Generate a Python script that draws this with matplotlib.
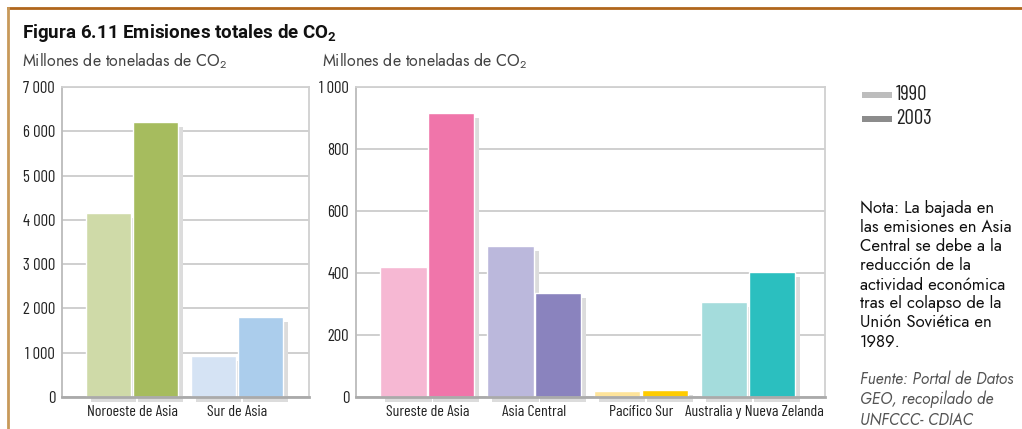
import matplotlib
matplotlib.use("Agg")
import matplotlib.pyplot as plt
import matplotlib.transforms as mtransforms
from matplotlib.lines import Line2D
from matplotlib.patches import Rectangle
from matplotlib.ticker import FuncFormatter

plt.rcParams['mathtext.default'] = 'regular'

# data (millones de toneladas de CO2)
years = ['1990', '2003']
left_regions = ['Noroeste de Asia', 'Sur de Asia']
left_1990 = [4150, 930]
left_2003 = [6200, 1810]
right_regions = ['Sureste de Asia', 'Asia Central', 'Pacífico Sur', 'Australia y Nueva Zelanda']
right_1990 = [420, 486, 18, 305]
right_2003 = [915, 335, 21, 404]

left_colors_1990 = ['#CFDAA8', '#D5E3F4']
left_colors_2003 = ['#A6BC5E', '#ABCDEC']
right_colors_1990 = ['#F6B8D3', '#BBB8DC', '#FFE49A', '#A4DCDC']
right_colors_2003 = ['#F075AA', '#8A83BE', '#FFCC00', '#2BBFBF']
legend_colors = ['#BDBDBD', '#8C8C8C']

note = ("Nota: La bajada en\nlas emisiones en Asia\nCentral se debe a la\nreducción de la\n"
        "actividad económica\ntras el colapso de la\nUnión Soviética en\n1989.")
source = "Fuente: Portal de Datos\nGEO, recopilado de\nUNFCCC- CDIAC"

W, H = 1022, 429
fig = plt.figure(figsize=(W / 100, H / 100), dpi=100)
narrow = ['Barlow Condensed', 'Roboto Condensed', 'DejaVu Sans']
futura = ['Jost', 'DejaVu Sans']


def px_axes(x0, x1, ytop, ybot):
    return fig.add_axes([x0 / W, (H - ybot) / H, (x1 - x0) / W, (ybot - ytop) / H])


def draw_panel(ax, regions, v90, v03, c90, c03, ymax, step, xlim):
    x = list(range(len(regions)))
    off, w = 0.223, 0.435
    shadow = mtransforms.offset_copy(ax.transData, fig=fig, x=5, y=-5, units='dots')
    for i in x:
        for xc, v in ((i - off, v90[i]), (i + off, v03[i])):
            ax.add_patch(Rectangle((xc - w / 2, 0), w, v, facecolor='#DCDCDC',
                                   edgecolor='none', transform=shadow, clip_on=False, zorder=1))
    ax.bar([i - off for i in x], v90, width=w, color=c90, edgecolor='white', linewidth=1, zorder=2)
    ax.bar([i + off for i in x], v03, width=w, color=c03, edgecolor='white', linewidth=1, zorder=2)
    ax.set_xlim(*xlim)
    ax.set_ylim(0, ymax)
    ax.set_yticks(range(0, ymax + 1, step))
    ax.yaxis.set_major_formatter(FuncFormatter(lambda v, p: f"{v:,.0f}".replace(",", " ")))
    ax.set_xticks(x, regions)
    ax.tick_params(length=0, labelsize=12, colors='#222222')
    ax.tick_params(axis='x', labelsize=11.5, pad=6)
    ax.tick_params(axis='y', pad=5)
    for lab in ax.get_xticklabels() + ax.get_yticklabels():
        lab.set_family(narrow)
    ax.grid(axis='y', color='#CCCCCC', linewidth=1.3, zorder=0)
    ax.set_axisbelow(True)
    for s in ('top', 'right'):
        ax.spines[s].set_color('#D0D0D0')
        ax.spines[s].set_linewidth(1.3)
    ax.spines['left'].set_color('#BBBBBB')
    ax.spines['left'].set_linewidth(1.3)
    ax.spines['bottom'].set_color('#AAAAAA')
    ax.spines['bottom'].set_linewidth(2)


ax1 = px_axes(62, 309, 87, 397)
draw_panel(ax1, left_regions, left_1990, left_2003, left_colors_1990, left_colors_2003,
           7000, 1000, (-0.667, 1.686))
ax2 = px_axes(356, 825, 87, 397)
draw_panel(ax2, right_regions, right_1990, right_2003, right_colors_1990, right_colors_2003,
           1000, 200, (-0.666, 3.72))
# last label sits a little to the right in the original
lab = ax2.get_xticklabels()[-1]
lab.set_transform(lab.get_transform() + mtransforms.ScaledTranslation(6 / 100, 0, fig.dpi_scale_trans))

# frame
fig.add_artist(Line2D([8 / W, 1], [1 - 8 / H, 1 - 8 / H], color='#B0661C', linewidth=2))
fig.add_artist(Line2D([8 / W, 8 / W], [0, 1 - 8 / H], color='#C8995A', linewidth=2))

fig.text(22 / W, 1 - 33 / H, "Figura 6.11 Emisiones totales de CO$_2$", family=['Roboto', 'DejaVu Sans'],
         weight='bold', fontsize=13.5, color='#111111', va='center')
for xp in (22, 322):
    fig.text(xp / W, 1 - 61 / H, "Millones de toneladas de CO$_2$", family=futura,
             fontsize=11.5, color='#444444', va='center')

# legend
for k, yr in enumerate(years):
    yc = 94.5 + k * 24
    fig.add_artist(Rectangle((862 / W, 1 - (yc + 3) / H), 30 / W, 6 / H,
                             facecolor=legend_colors[k], edgecolor='none'))
    fig.text(896 / W, 1 - yc / H, yr, family=narrow, fontsize=15, color='#222222', va='center')

fig.text(860 / W, 1 - 200 / H, note, family=futura, fontsize=12, color='#111111',
         va='top', linespacing=1.16)
fig.text(860 / W, 1 - 370 / H, source, family=futura, style='italic', fontsize=11.3,
         color='#555555', va='top', linespacing=1.25)

fig.savefig('out.png', dpi=100)
